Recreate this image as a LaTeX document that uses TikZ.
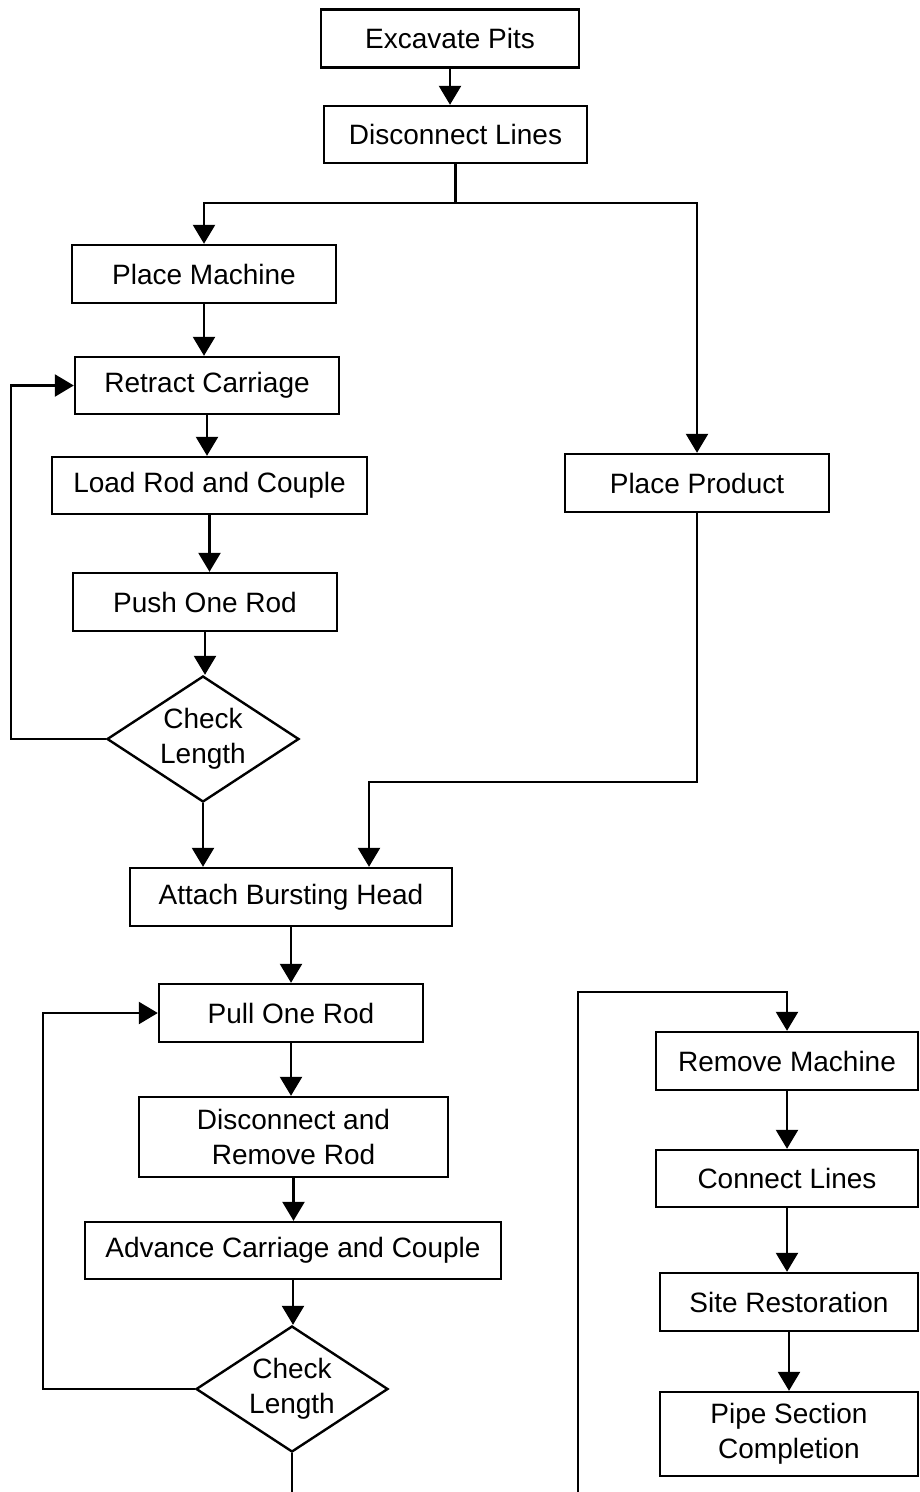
\documentclass[tikz,border=0pt]{standalone}
\usepackage{fontspec}
\setmainfont{Liberation Sans}
\usetikzlibrary{arrows.meta,shapes.geometric}
\tikzset{
  box/.style={draw=black, line width=2.4pt, rectangle, inner sep=0pt, align=center, font=\fontsize{28}{35}\selectfont},
  dia/.style={draw=black, line width=2.4pt, diamond, aspect=1.52, inner sep=0pt, minimum width=192pt, minimum height=126pt, align=center, font=\fontsize{28}{35}\selectfont},
  arr/.style={line width=2.4pt, -{Triangle[length=19pt,width=22pt]}},
  ln/.style={line width=2.4pt}
}
\begin{document}
\begin{tikzpicture}[x=1pt,y=-1pt]
\useasboundingbox (0,0) rectangle (919,1492);
\fill[white] (0,0) rectangle (919,1492);
% nodes
\node[box, minimum width=258pt, minimum height=58pt] (exc) at (450,38.5) {Excavate Pits};
\node[box, minimum width=263pt, minimum height=57pt] (dis) at (455.5,134.5) {Disconnect Lines};
\node[box, minimum width=264pt, minimum height=58pt] (pm) at (204,274) {Place Machine};
\node[box, minimum width=264pt, minimum height=57pt] (rc) at (207,385.5) {Retract Carriage};
\node[box, minimum width=315pt, minimum height=57pt] (lr) at (209.5,485.5) {Load Rod and Couple};
\node[box, minimum width=264pt, minimum height=58pt] (pr) at (205,602) {Push One Rod};
\node[dia] (d1) at (203,739) {Check\\Length};
\node[box, minimum width=264pt, minimum height=58pt] (pp) at (697,483) {Place Product};
\node[box, minimum width=322pt, minimum height=58pt] (ab) at (291,897) {Attach Bursting Head};
\node[box, minimum width=264pt, minimum height=58pt] (pu) at (291,1013) {Pull One Rod};
\node[box, minimum width=309pt, minimum height=80pt] (dr) at (293.5,1137) {Disconnect and\\Remove Rod};
\node[box, minimum width=416pt, minimum height=57pt] (ad) at (293,1250.5) {Advance Carriage and Couple};
\node[dia] (d2) at (292,1389) {Check\\Length};
\node[box, minimum width=262pt, minimum height=58pt] (rm) at (787,1061) {Remove Machine};
\node[box, minimum width=262pt, minimum height=57pt] (cl) at (787,1178.5) {Connect Lines};
\node[box, minimum width=258pt, minimum height=58pt] (sr) at (789,1302) {Site Restoration};
\node[box, minimum width=258pt, minimum height=84pt] (ps) at (789,1434) {Pipe Section\\Completion};
% helper coordinates
\coordinate (j1) at (455.5,203);
\coordinate (fb1) at (11,739);
\coordinate (j2) at (369,782);
\coordinate (fb2) at (43,1389);
\coordinate (e1) at (292,1492);
\coordinate (e2) at (578,1492);
\coordinate (j3) at (578,992);
% connectors
\draw[arr] (exc.south) -- (exc.south |- dis.north);
\draw[ln] (dis.south) -- (j1);
\draw[arr] (j1) -| (pm.north);
\draw[arr] (j1) -| (pp.north);
\draw[arr] (pm.south) -- (pm.south |- rc.north);
\draw[arr] (rc.south) -- (rc.south |- lr.north);
\draw[arr] (lr.south) -- (lr.south |- pr.north);
\draw[arr] (pr.south) -- (pr.south |- d1.north);
\draw[arr] (d1.west) -- (fb1) |- (rc.west);
\draw[arr] (d1.south) -- (d1.south |- ab.north);
\draw[arr] (pp.south) |- (j2) -- (j2 |- ab.north);
\draw[arr] (ab.south) -- (ab.south |- pu.north);
\draw[arr] (pu.south) -- (pu.south |- dr.north);
\draw[arr] (dr.south) -- (dr.south |- ad.north);
\draw[arr] (ad.south) -- (ad.south |- d2.north);
\draw[arr] (d2.west) -- (fb2) |- (pu.west);
\draw[ln] (d2.south) -- (e1);
\draw[arr] (e2) -- (j3) -| (rm.north);
\draw[arr] (rm.south) -- (rm.south |- cl.north);
\draw[arr] (cl.south) -- (cl.south |- sr.north);
\draw[arr] (sr.south) -- (sr.south |- ps.north);
\end{tikzpicture}
\end{document}
